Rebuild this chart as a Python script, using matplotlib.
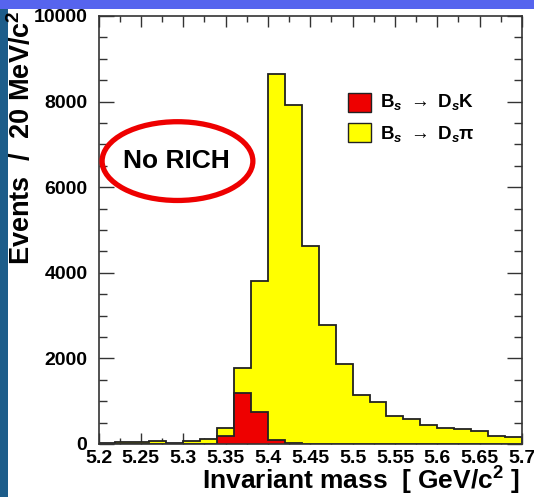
import numpy as np
import matplotlib
matplotlib.use("Agg")
import matplotlib.pyplot as plt
from matplotlib.patches import Rectangle, Ellipse
from matplotlib.ticker import MultipleLocator

# ---- data ----
bin_edges = [5.20, 5.22, 5.24, 5.26, 5.28, 5.30, 5.32, 5.34, 5.36, 5.38,
             5.40, 5.42, 5.44, 5.46, 5.48, 5.50, 5.52, 5.54, 5.56, 5.58,
             5.60, 5.62, 5.64, 5.66, 5.68, 5.70]
ds_pi = [15, 40, 45, 70, 15, 60, 110, 380, 1770, 3810,
         8650, 7930, 4630, 2780, 1870, 1150, 970, 650, 590, 450,
         375, 345, 295, 185, 170]
ds_k = [0, 0, 0, 0, 0, 0, 5, 195, 1185, 755,
        95, 15, 0, 0, 0, 0, 0, 0, 0, 0,
        0, 0, 0, 0, 0]
x_ticks = [5.2, 5.25, 5.3, 5.35, 5.4, 5.45, 5.5, 5.55, 5.6, 5.65, 5.7]
x_tick_labels = ["5.2", "5.25", "5.3", "5.35", "5.4", "5.45", "5.5", "5.55", "5.6", "5.65", "5.7"]
y_ticks = [0, 2000, 4000, 6000, 8000, 10000]
legend_labels = ["B$_s$ $\\rightarrow$ D$_s$K", "B$_s$ $\\rightarrow$ D$_s$\u03c0"]

plt.rcParams['font.family'] = ['Liberation Sans', 'DejaVu Sans']
plt.rcParams['font.weight'] = 'bold'
plt.rcParams['mathtext.fontset'] = 'custom'
plt.rcParams['mathtext.rm'] = 'Liberation Sans:bold'
plt.rcParams['mathtext.it'] = 'Liberation Sans:bold:italic'
plt.rcParams['mathtext.bf'] = 'Liberation Sans:bold'
plt.rcParams['mathtext.fallback'] = 'cm'

W, H = 534, 497
fig = plt.figure(figsize=(W / 100, H / 100), dpi=100)
fig.patch.set_facecolor('white')

# slide background strips
fig.patches.append(Rectangle((0, 1 - 9 / H), 1, 9 / H, transform=fig.transFigure,
                             facecolor='#5664ee', edgecolor='none', zorder=0))
fig.patches.append(Rectangle((0, 0), 8 / W, 1 - 9 / H, transform=fig.transFigure,
                             facecolor='#1d5d8a', edgecolor='none', zorder=0))

left, right, top, bottom = 98.5, 522, 16, 444
ax = fig.add_axes([left / W, 1 - bottom / H, (right - left) / W, (bottom - top) / H])
ax.set_facecolor('white')

ax.stairs(ds_pi, bin_edges, fill=True, facecolor='#ffff00', edgecolor='none', zorder=2)
ax.stairs(ds_pi, bin_edges, color='#222222', lw=1.3, zorder=3)
ax.stairs(ds_k, bin_edges, fill=True, facecolor='#ee0000', edgecolor='none', zorder=4)
ax.stairs(ds_k, bin_edges, color='#222222', lw=1.3, zorder=5)

ax.set_xlim(bin_edges[0], bin_edges[-1])
ax.set_ylim(0, 10000)
ax.set_xticks(x_ticks)
ax.set_xticklabels(x_tick_labels)
ax.set_yticks(y_ticks)
ax.set_yticklabels([str(v) for v in y_ticks])
ax.xaxis.set_minor_locator(MultipleLocator(0.025))
ax.yaxis.set_minor_locator(MultipleLocator(500))
ax.tick_params(which='both', direction='in', top=True, right=True, labelsize=14,
               color='#333333', width=1.0)
ax.tick_params(axis='x', which='major', length=8, pad=4)
ax.tick_params(axis='x', which='minor', length=4)
ax.tick_params(axis='y', which='major', length=11, pad=8)
ax.tick_params(axis='y', which='minor', length=6)
for lab in ax.get_xticklabels() + ax.get_yticklabels():
    lab.set_fontweight('bold')
for sp in ax.spines.values():
    sp.set_color('#333333')
    sp.set_linewidth(1.2)
    sp.set_zorder(6)

# legend (manual)
handles = [('#ee0000', 0.7764, 0.7867), ('#ffff00', 0.7063, 0.7119)]
for (col, y0, yb), lab in zip(handles, legend_labels):
    ax.add_patch(Rectangle((0.590, y0), 0.0529, 0.043, transform=ax.transAxes,
                           facecolor=col, edgecolor='#222222', lw=1.0, zorder=7))
    ax.text(0.665, yb, lab, transform=ax.transAxes, fontsize=13.5, fontweight='bold',
            ha='left', va='baseline', zorder=7)

# "No RICH" annotation
ax.add_patch(Ellipse((0.1865, 0.661), 0.356, 0.184, transform=ax.transAxes,
                     facecolor='none', edgecolor='#ee0000', lw=3.8, zorder=7))
ax.text(0.183, 0.661, "No RICH", transform=ax.transAxes, fontsize=19,
        fontweight='bold', ha='center', va='center', zorder=8)

# axis titles
fig.text(520 / W, 1 - 490 / H, "Invariant mass  [ GeV/c$^2$ ]", fontsize=19,
         fontweight='bold', ha='right', va='baseline')
fig.text(22 / W, 1 - 10 / H, "Events  /  20 MeV/c$^2$", fontsize=19.5,
         fontweight='bold', rotation=90, ha='center', va='top')

fig.savefig("out.png", dpi=100)
